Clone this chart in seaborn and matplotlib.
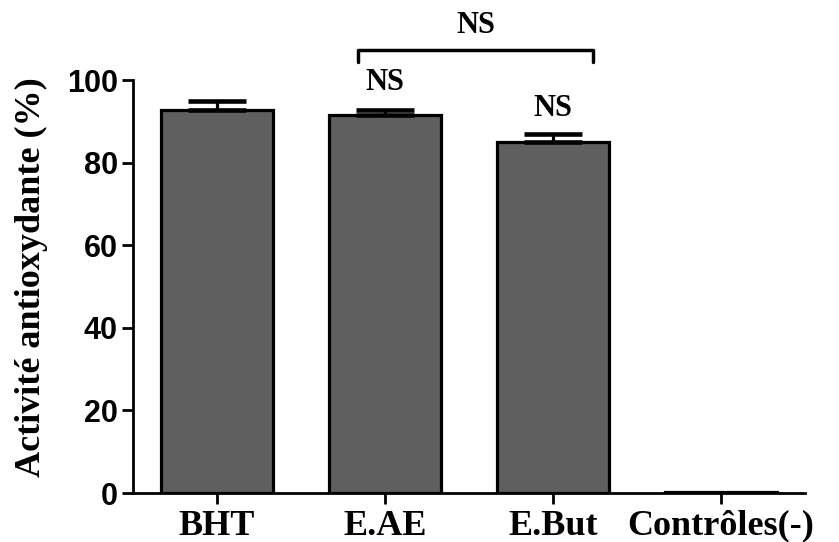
import seaborn as sns
import numpy as np
import matplotlib.pyplot as plt

# Datos
grupos = ['BHT', 'E.AE', 'E.But', 'Contrôles(-)']
actividad = [92.7, 91.6, 85.0, 0.3]
erreur = [2.3, 1.1, 2.1, 0.0]

# Etiquetas de significacion
etiquetas_ns = ['NS', 'NS']
pos_ns = [1, 2]
y_ns = [99.4, 93.3]

sns.set_style('ticks', {'text.color': 'black', 'axes.labelcolor': 'black',
                        'xtick.color': 'black', 'ytick.color': 'black',
                        'axes.edgecolor': 'black'})
plt.rcParams['font.family'] = ['Liberation Serif', 'DejaVu Serif']

fig = plt.figure(figsize=(8.39, 5.42), dpi=100)
ax = fig.add_axes([0.1585, 0.0904, 0.801, 0.8755])

# Barras
sns.barplot(x=grupos, y=actividad, color='#5f5f5f', edgecolor='black',
            linewidth=2.3, width=0.667, errorbar=None, saturation=1, ax=ax)

# Barras de error (solo la parte superior)
x = np.arange(len(grupos))
ax.errorbar(x[:3], actividad[:3], yerr=[np.zeros(3), erreur[:3]], fmt='none',
            ecolor='black', elinewidth=2.3, capsize=21, capthick=3.3, zorder=1)

# Ejes
ax.set_xlim(-0.5, 3.5)
ax.set_ylim(0, 115)
ax.set_yticks([0, 20, 40, 60, 80, 100])
ax.spines['left'].set_bounds(0, 100)
sns.despine(ax=ax)
for lado in ['left', 'bottom']:
    ax.spines[lado].set_linewidth(2)
ax.tick_params(axis='both', width=2, length=8)
ax.tick_params(axis='y', pad=3)
ax.tick_params(axis='x', pad=4)

for lab in ax.get_yticklabels():
    lab.set_family(['Liberation Sans', 'DejaVu Sans'])
    lab.set_fontweight('bold')
    lab.set_fontsize(22)
for lab in ax.get_xticklabels():
    lab.set_fontweight('bold')
    lab.set_fontsize(26)

ax.set_ylabel('Activité antioxydante (%)', fontsize=26, fontweight='bold')
ax.yaxis.set_label_coords(-0.1265, 0.455)
ax.set_xlabel('')

# Anotaciones NS
for t, px, py in zip(etiquetas_ns, pos_ns, y_ns):
    ax.text(px, py, t, ha='center', va='center', fontsize=22, fontweight='bold')

# Corchete entre E.AE y E.But
ax.plot([0.84, 0.84, 2.24, 2.24], [104.5, 107.4, 107.4, 104.5], color='black',
        lw=2.5, clip_on=False)
ax.text(1.54, 113.2, 'NS', ha='center', va='center', fontsize=22, fontweight='bold')

plt.savefig('out.png', dpi=100)
plt.close()
